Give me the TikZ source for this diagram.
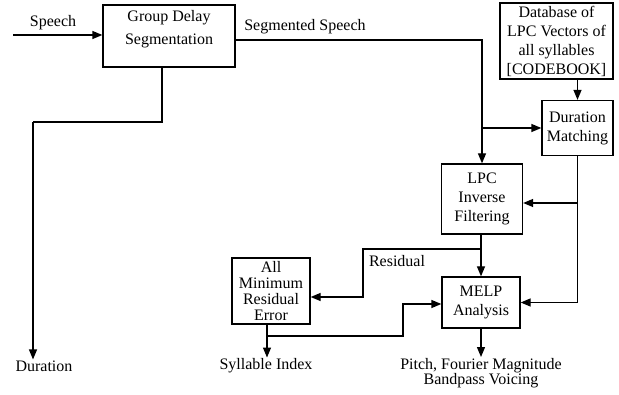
\documentclass[tikz,border=0pt]{standalone}
\usepackage{fontspec}
\setmainfont{Liberation Serif}
\usetikzlibrary{arrows.meta}
\tikzset{
	blk/.style={draw, line width=1.3pt, inner sep=1pt, align=center, font=\fontsize{16}{19}\selectfont},
	lbl/.style={inner sep=1pt, align=center, font=\fontsize{16}{15}\selectfont},
	arr/.style={line width=1.3pt, -{Triangle[length=10pt,width=8pt]}},
	ln/.style={line width=1.3pt}
}
\begin{document}
\begin{tikzpicture}[x=1pt, y=-1pt]
			\useasboundingbox (0,0) rectangle (619,395);
			%blocks
			\node[blk, minimum width=132pt, minimum height=62pt] (gd) at (169,36){Group Delay\\[4pt]Segmentation\\[-2pt]};
			\node[blk, minimum width=113pt, minimum height=76pt] (db) at (556.5,41){Database of\\LPC Vectors of\\all syllables\\{}[CODEBOOK]};
			\node[blk, minimum width=71pt, minimum height=55pt] (dm) at (577.5,128){Duration\\Matching};
			\node[blk, minimum width=81pt, minimum height=70pt] (lpc) at (482,199){LPC\\Inverse\\Filtering};
			\node[blk, minimum width=78pt, minimum height=51pt] (melp) at (481,302.5){MELP\\Analysis};
			\node[blk, minimum width=78pt, minimum height=66pt, font=\fontsize{16}{16}\selectfont] (amre) at (271,291){All\\Minimum\\Residual\\Error};
			
			%texts
			\node[lbl] (sp) at (53,23){Speech};
			\node[lbl] (seg) at (305,27){Segmented Speech};
			\node[lbl] (res) at (397,261){Residual};
			\node[lbl] (dur) at (44,366){Duration};
			\node[lbl] (si) at (266,366){Syllable Index};
			\node[lbl] (pitch) at (481,373){Pitch, Fourier Magnitude\\Bandpass Voicing};
			
			%junctions
			\coordinate (in) at (13,35);
			\coordinate (j1) at (481,128);
			\coordinate (j2) at (578,203);
			\coordinate (j3) at (481,249);
			\coordinate (j4) at (267,336);
			\coordinate (r1) at (363,297);
			\coordinate (r2) at (403,304);
			\coordinate (r3) at (33,122);
			
			%connectors
			\draw[arr] (in) -- (in -| gd.west);
			\draw[arr] ([yshift=-4pt]gd.east) -| (lpc.north);
			\draw[arr] (j1) -- (dm.west);
			\draw[arr] (dm.north |- db.south) -- (dm.north);
			\draw[arr] (dm.south) |- (melp.east);
			\draw[arr] (j2) -- (j2 -| lpc.east);
			\draw[arr] (lpc.south -| j3) -- (melp.north -| j3);
			\draw[arr] (j3) -| (r1) -- (r1 -| amre.east);
			\draw[arr] (amre.south -| j4) -- (si.north -| j4);
			\draw[arr] (j4) -| (r2) -- (r2 -| melp.west);
			\draw[arr] (melp.south) -- (pitch.north);
			\draw[ln] ([xshift=-7pt]gd.south) |- (r3);
			\draw[arr] (r3) -- (r3 |- dur.north);
\end{tikzpicture}
\end{document}
